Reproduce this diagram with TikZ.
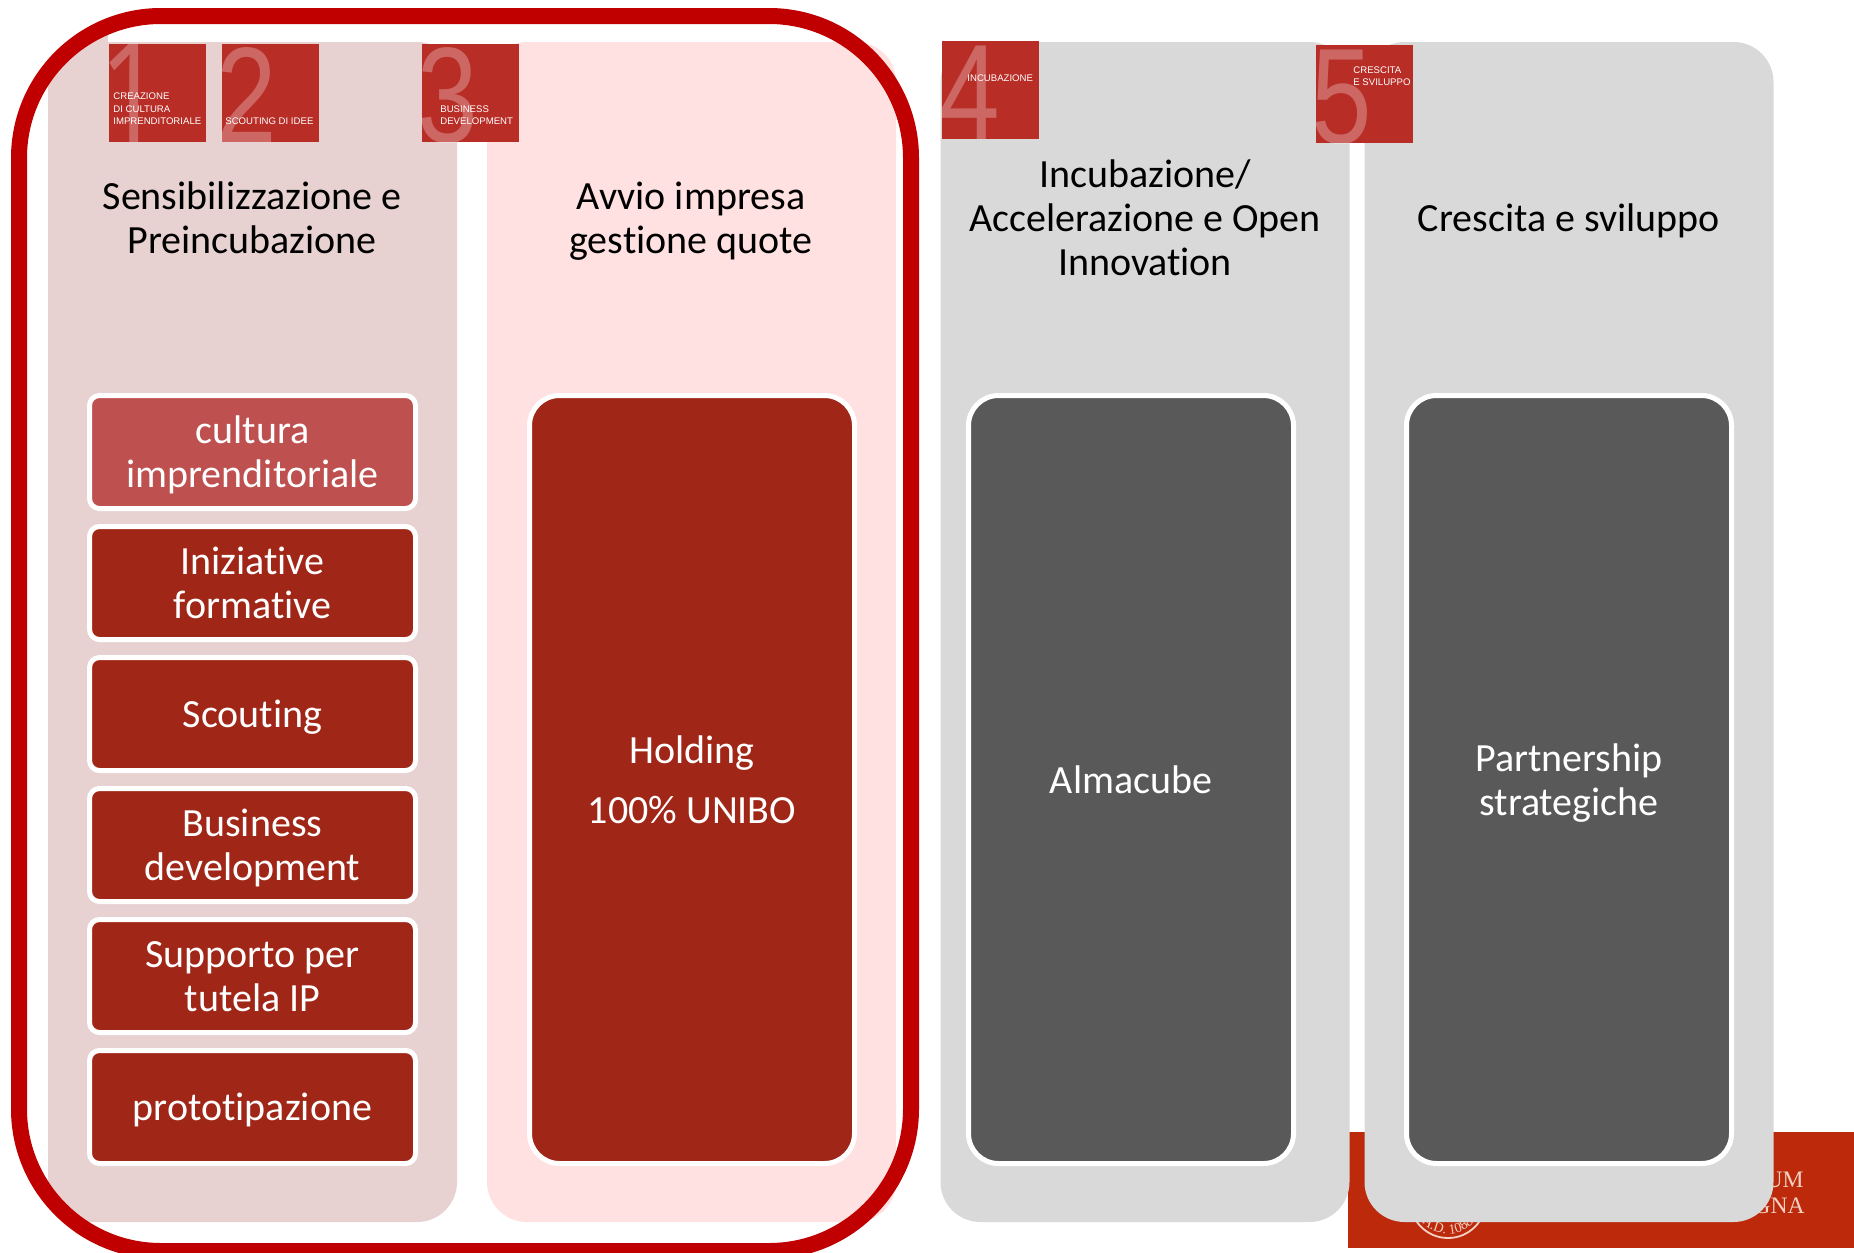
\documentclass[tikz,border=0pt]{standalone}
\usepackage{fontspec}
\usetikzlibrary{decorations.text}
\setmainfont[Ligatures=NoCommon]{Carlito}
\newfontfamily\digitfont{Liberation Sans}
\newfontfamily\onefont{Open Sans}
\newfontfamily\badgefont{Liberation Sans}
\newfontfamily\logofont{Liberation Serif}
\newcommand\tstrut{\rule[-4.2pt]{0pt}{22pt}}
\definecolor{colA}{HTML}{E8D1D1}
\definecolor{colB}{HTML}{FFE1E1}
\definecolor{colG}{HTML}{D9D9D9}
\definecolor{darkG}{HTML}{595959}
\definecolor{boxR}{HTML}{A02718}
\definecolor{boxL}{HTML}{BE5050}
\definecolor{frameR}{HTML}{C00000}
\definecolor{footR}{HTML}{BC2A0B}
\definecolor{badgeR}{HTML}{B92D27}
\definecolor{logoC}{HTML}{F3D2C4}
\tikzset{
  x=0.5pt,y=-0.5pt,
  column/.style={draw=none,fill=#1,rounded corners=20pt,minimum width=204.5pt,minimum height=590pt,inner sep=0pt,outer sep=0pt},
  head/.style={text=black,font=\fontsize{20}{22}\selectfont,align=center,inner sep=0pt},
  smallbox/.style={draw=white,line width=2.5pt,fill=#1,rounded corners=5pt,minimum width=163pt,minimum height=56.5pt,inner sep=0pt,text=white,font=\fontsize{20}{22}\selectfont,align=center},
  bigbox/.style={draw=white,line width=2.5pt,fill=#1,rounded corners=15pt,minimum width=162.5pt,minimum height=384pt,inner sep=0pt,text=white,font=\fontsize{20}{22}\selectfont,align=center},
  badge/.style={fill=badgeR,draw=none,minimum width=48.5pt,minimum height=49pt,inner sep=0pt,outer sep=0pt},
  digit/.style={text=white,text opacity=0.28,font=\digitfont\fontsize{68}{68}\selectfont,inner sep=0pt,xscale=0.8,anchor=base west},
  badgetext/.style={text=white,font=\badgefont\fontsize{4.8}{6.2}\selectfont,align=left,inner sep=0pt,anchor=west},
  logotext/.style={text=logoC,font=\logofont\fontsize{11.8}{13}\selectfont,inner sep=0pt,anchor=east},
  frameline/.style={draw=frameR,line width=8pt,rounded corners=71pt}
}
\begin{document}
\begin{tikzpicture}
\useasboundingbox (0,0) rectangle (1854,1253);
\fill[white] (0,0) rectangle (1854,1253);
% footer band with the logo partly hidden behind the last column
\fill[footR] (1348,1132) rectangle (1854,1248);
\draw[logoC,line width=0.9pt] (1448,1200) circle[radius=38];
\path[decorate,decoration={text along path,text align=center,
   text={|\logofont\fontsize{7}{8}\selectfont\color{logoC}|A.D. 1088}}]
   (1448,1200) ++(160:34) arc[start angle=160,end angle=20,radius=34];
\node[logotext] (um) at (1804,1180) {UM};
\node[logotext] (gna) at (1805,1206) {GNA};
% columns
\node[column=colA] (c1) at (252.5,632) {};
\fill[colA] (48,120) -- (48,80) -- (75,45) -- (108,30) -- (108,120) -- cycle;
\node[column=colB] (c2) at (691.5,632) {};
\node[column=colG] (c3) at (1145,632) {};
\node[column=colG] (c4) at (1569,632) {};
% headings
\node[head] (h1) at (252,218) {\tstrut Sensibilizzazione e\\\tstrut Preincubazione};
\node[head] (h2) at (691,218) {\tstrut Avvio impresa\\\tstrut gestione quote};
\node[head] (h3) at (1145,218) {\tstrut Incubazione/\\\tstrut Accelerazione e Open\\\tstrut Innovation};
\node[head] (h4) at (1569,218) {\tstrut Crescita e sviluppo};
% small boxes
\node[smallbox=boxL] (b1) at (252.5,452) {\tstrut cultura\\\tstrut imprenditoriale};
\node[smallbox=boxR] (b2) at (252.5,583) {\tstrut Iniziative\\\tstrut formative};
\node[smallbox=boxR] (b3) at (252.5,714) {\tstrut Scouting};
\node[smallbox=boxR] (b4) at (252.5,845) {\tstrut Business\\\tstrut development};
\node[smallbox=boxR] (b5) at (252.5,976) {\tstrut Supporto per\\\tstrut tutela IP};
\node[smallbox=boxR] (b6) at (252.5,1107) {\tstrut prototipazione};
% big boxes
\node[bigbox=boxR] (b7) at (692,779.5) {\tstrut Holding\\[8pt]\tstrut 100\% UNIBO};
\node[bigbox=darkG] (b8) at (1131,779.5) {\tstrut Almacube};
\node[bigbox=darkG] (b9) at (1569,779.5) {\tstrut Partnership\\\tstrut strategiche};
% badges
\node[badge] (n1) at (157.5,93) {};
\node[badge] (n2) at (270,93) {};
\node[badge] (n3) at (470,93) {};
\node[badge] (n4) at (990,89.5) {};
\node[badge] (n5) at (1364.5,94) {};
\begin{scope}
\clip (n1.south west) rectangle (n1.north east);
\node[digit,font=\onefont\fontsize{70}{70}\selectfont] (d1) at (99,142) {1};
\end{scope}
\begin{scope}
\clip (n2.south west) rectangle (n2.north east);
\node[digit] (d2) at (216,142) {2};
\end{scope}
\begin{scope}
\clip (n3.south west) rectangle (n3.north east);
\node[digit] (d3) at (417,142) {3};
\end{scope}
\begin{scope}
\clip (n4.south west) rectangle (n4.north east);
\node[digit] (d4) at (939,139) {4};
\end{scope}
\begin{scope}
\clip (n5.south west) rectangle (n5.north east);
\node[digit] (d5) at (1311,143) {5};
\end{scope}
\node[badgetext] (t1) at (113,109) {CREAZIONE\\DI CULTURA\\IMPRENDITORIALE};
\node[badgetext] (t2) at (225,121) {SCOUTING DI IDEE};
\node[badgetext] (t3) at (440,115) {BUSINESS\\DEVELOPMENT};
\node[badgetext] (t4) at (967,78) {INCUBAZIONE};
\node[badgetext] (t5) at (1353,76) {CRESCITA\\E SVILUPPO};
% red frame
\draw[frameline] (19,16) rectangle (911,1251);
\end{tikzpicture}
\end{document}
